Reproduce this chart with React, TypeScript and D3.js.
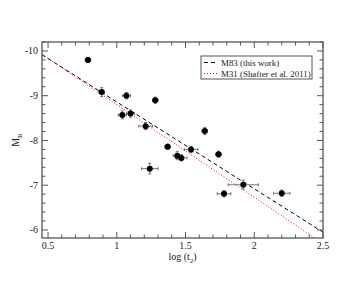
import * as d3 from "d3"
import { useEffect, useRef } from "react"

// log(t2) values, M_R values and their errors
const logT2 = [0.79, 0.89, 1.07, 1.28, 1.04, 1.1, 1.21, 1.24, 1.37, 1.44, 1.47, 1.54, 1.64, 1.74, 1.78, 1.92, 2.2]
const magR = [-9.8, -9.08, -9.0, -8.9, -8.57, -8.6, -8.32, -7.37, -7.86, -7.66, -7.61, -7.8, -8.21, -7.69, -6.81, -7.01, -6.82]
const xErr = [0.02, 0.02, 0.03, 0.02, 0.03, 0.03, 0.05, 0.06, 0.02, 0.03, 0.04, 0.05, 0.02, 0.02, 0.05, 0.11, 0.06]
const yErr = [0.06, 0.1, 0.07, 0.07, 0.09, 0.08, 0.08, 0.12, 0.06, 0.09, 0.07, 0.07, 0.08, 0.07, 0.07, 0.1, 0.07]

const xTicks = [0.5, 1, 1.5, 2, 2.5]
const yTicks = [-10, -9, -8, -7, -6]

// MMRD fits: M = a + b * log(t2)
const fits = [
  { name: "M83 (this work)", a: -10.8, b: 1.94, color: "#000", dash: "4,3" },
  { name: "M31 (Shafter et al. 2011)", a: -10.87, b: 2.07, color: "#ff0000", dash: "1,2" },
]

export default function App() {
  const svgRef = useRef<SVGSVGElement>(null)

  useEffect(() => {
    if (!svgRef.current) return
    const root = d3.select(svgRef.current)
    root.selectAll("*").remove()

    const margin = { top: 42, right: 40, bottom: 43, left: 42 }
    const width = 363 - margin.left - margin.right
    const height = 281 - margin.top - margin.bottom

    const svg = root.append("g").attr("transform", `translate(${margin.left},${margin.top})`)

    const x = d3.scaleLinear().domain([0.456, 2.5]).range([0, width])
    const y = d3.scaleLinear().domain([-10.2, -5.82]).range([0, height])

    svg.append("clipPath").attr("id", "plotclip")
      .append("rect").attr("width", width).attr("height", height)

    const font = "'Liberation Serif', 'DejaVu Serif', serif"
    const frameColor = "#555"

    // minor / major ticks, inward on all sides
    const xMinor = d3.range(0.5, 2.501, 0.1)
    const yMinor = d3.range(-10.2, -5.8, 0.2)
    const tickG = svg.append("g").attr("stroke", frameColor).attr("stroke-width", 1)
    xMinor.forEach((v) => {
      const major = Math.abs(v * 2 - Math.round(v * 2)) < 1e-6
      const len = major ? 6 : 3.5
      tickG.append("line").attr("x1", x(v)).attr("x2", x(v)).attr("y1", height).attr("y2", height - len)
      tickG.append("line").attr("x1", x(v)).attr("x2", x(v)).attr("y1", 0).attr("y2", len)
    })
    yMinor.forEach((v) => {
      const major = Math.abs(v - Math.round(v)) < 1e-6
      const len = major ? 6 : 3.5
      tickG.append("line").attr("y1", y(v)).attr("y2", y(v)).attr("x1", 0).attr("x2", len)
      tickG.append("line").attr("y1", y(v)).attr("y2", y(v)).attr("x1", width).attr("x2", width - len)
    })

    // tick labels
    svg.append("g").selectAll("text").data(xTicks).join("text")
      .attr("x", (d) => x(d)).attr("y", height + 11)
      .attr("text-anchor", "middle")
      .style("font-family", font).style("font-size", "10px").attr("fill", "#222")
      .text((d) => String(d))
    svg.append("g").selectAll("text").data(yTicks).join("text")
      .attr("x", -4).attr("y", (d) => y(d) + 3.5)
      .attr("text-anchor", "end")
      .style("font-family", font).style("font-size", "10px").attr("fill", "#222")
      .text((d) => String(d))

    // fit lines
    const plot = svg.append("g").attr("clip-path", "url(#plotclip)")
    fits.forEach((f) => {
      const x0 = 0.456
      const x1 = 2.5
      plot.append("line")
        .attr("x1", x(x0)).attr("y1", y(f.a + f.b * x0))
        .attr("x2", x(x1)).attr("y2", y(f.a + f.b * x1))
        .attr("stroke", f.color).attr("stroke-width", 1)
        .attr("stroke-dasharray", f.dash)
    })

    // error bars
    const errG = svg.append("g").attr("stroke", "#555").attr("stroke-width", 0.8)
    logT2.forEach((lx, i) => {
      const cx = x(lx)
      const cy = y(magR[i])
      const xl = x(lx - xErr[i])
      const xr = x(lx + xErr[i])
      const yt = y(magR[i] - yErr[i])
      const yb = y(magR[i] + yErr[i])
      errG.append("line").attr("x1", xl).attr("x2", xr).attr("y1", cy).attr("y2", cy)
      errG.append("line").attr("x1", xl).attr("x2", xl).attr("y1", cy - 1.5).attr("y2", cy + 1.5)
      errG.append("line").attr("x1", xr).attr("x2", xr).attr("y1", cy - 1.5).attr("y2", cy + 1.5)
      errG.append("line").attr("x1", cx).attr("x2", cx).attr("y1", yt).attr("y2", yb)
      errG.append("line").attr("x1", cx - 1.5).attr("x2", cx + 1.5).attr("y1", yt).attr("y2", yt)
      errG.append("line").attr("x1", cx - 1.5).attr("x2", cx + 1.5).attr("y1", yb).attr("y2", yb)
    })

    // points
    svg.append("g").selectAll("circle").data(logT2).join("circle")
      .attr("cx", (d) => x(d)).attr("cy", (d, i) => y(magR[i]))
      .attr("r", 3).attr("fill", "#000")

    // frame
    svg.append("rect").attr("width", width).attr("height", height)
      .attr("fill", "none").attr("stroke", frameColor).attr("stroke-width", 1.3)

    // legend
    const lg = svg.append("g").attr("transform", `translate(${159},${14})`)
    lg.append("rect").attr("width", 111).attr("height", 23)
      .attr("fill", "#fff").attr("stroke", "#555").attr("stroke-width", 1)
    fits.forEach((f, i) => {
      const ly = 6.5 + i * 11
      lg.append("line").attr("x1", 3).attr("x2", 16).attr("y1", ly).attr("y2", ly)
        .attr("stroke", f.color).attr("stroke-width", 1).attr("stroke-dasharray", f.dash)
      lg.append("text").attr("x", 20).attr("y", ly + 3)
        .style("font-family", font).style("font-size", "8.9px").attr("fill", "#222")
        .text(f.name)
    })

    // axis titles
    const xt = svg.append("text").attr("x", width / 2).attr("y", height + 22)
      .attr("text-anchor", "middle")
      .style("font-family", font).style("font-size", "10px").attr("fill", "#222")
    xt.append("tspan").text("log (t")
    xt.append("tspan").attr("dy", 2.5).style("font-size", "7px").text("2")
    xt.append("tspan").attr("dy", -2.5).text(")")

    const yt = svg.append("text")
      .attr("transform", `translate(${-23},${height / 2}) rotate(-90)`)
      .attr("text-anchor", "middle")
      .style("font-family", font).style("font-size", "10px").attr("fill", "#222")
    yt.append("tspan").text("M")
    yt.append("tspan").attr("dy", 2.5).style("font-size", "7px").text("R")
  }, [])

  return (
    <svg ref={svgRef} width={363} height={281}
      style={{ position: "absolute", left: 0, top: 0, background: "#fff" }} />
  )
}
